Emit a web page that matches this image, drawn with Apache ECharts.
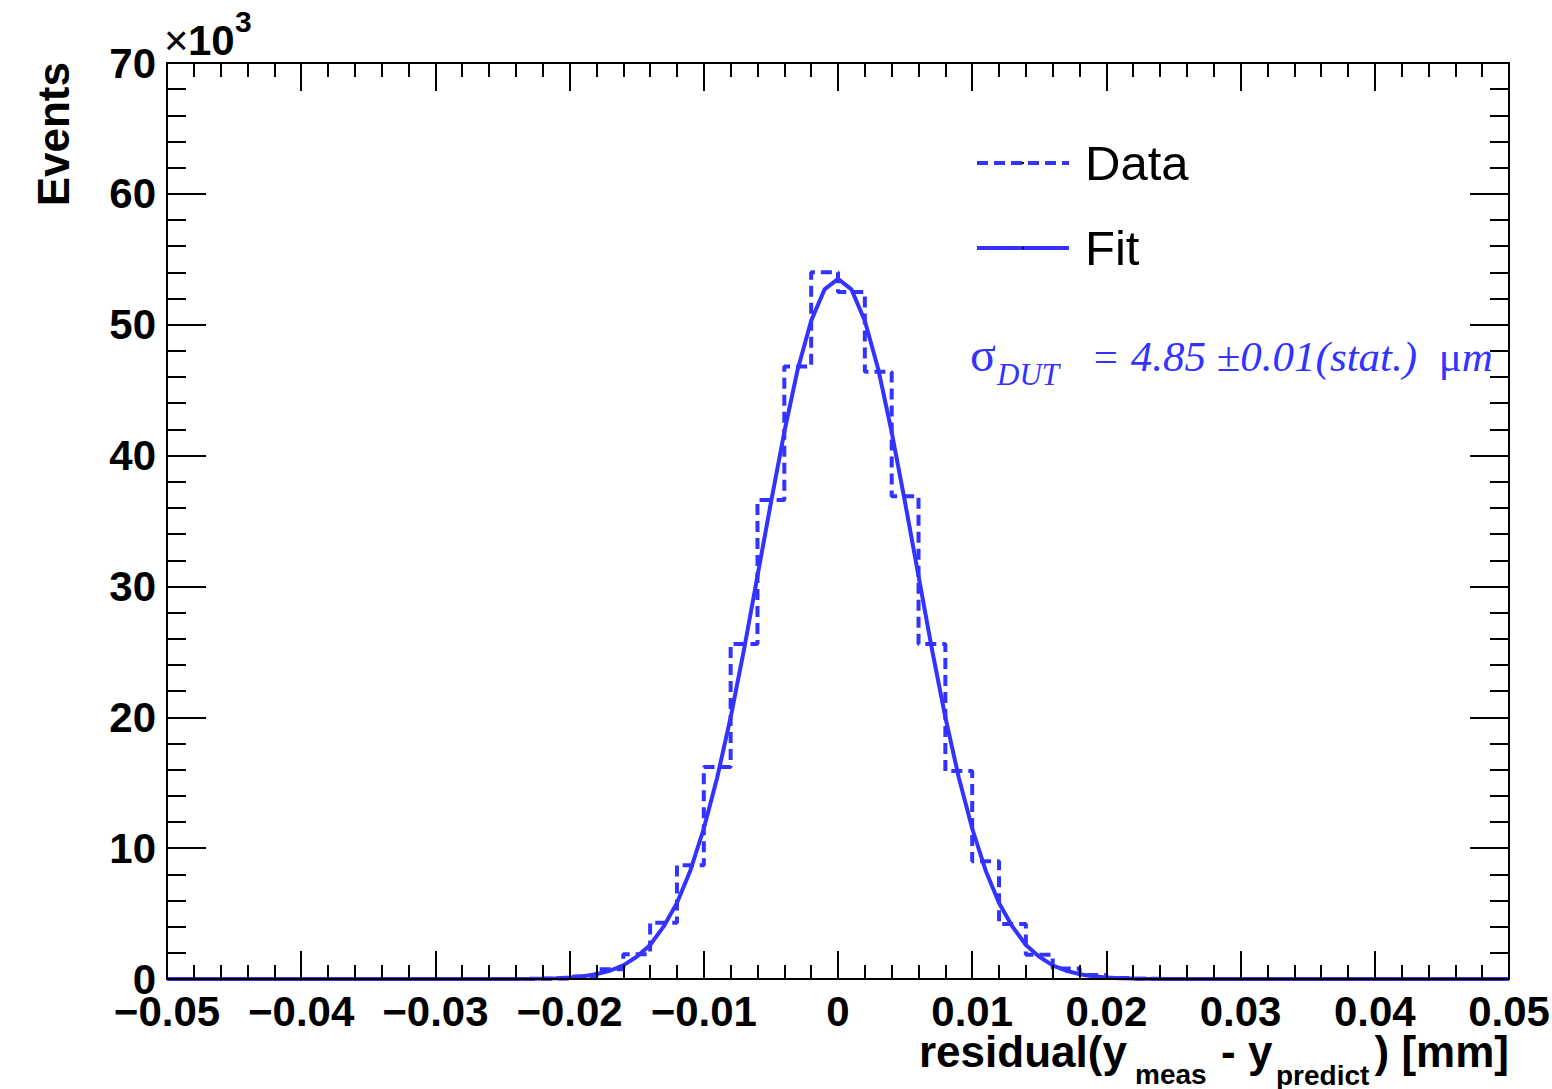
<!DOCTYPE html>
<html>
<head>
<meta charset="utf-8">
<script src="https://cdn.jsdelivr.net/npm/echarts@6/dist/echarts.min.js"></script>
<style>
html,body{margin:0;padding:0;background:#fff;}
#chart{width:1552px;height:1089px;}
</style>
</head>
<body>
<div id="chart"></div>
<script>
// ---- data (values in units of 10^3 events) ----
const binEdges = [-0.050,-0.048,-0.046,-0.044,-0.042,-0.040,-0.038,-0.036,-0.034,-0.032,
  -0.030,-0.028,-0.026,-0.024,-0.022,-0.020,-0.018,-0.016,-0.014,-0.012,
  -0.010,-0.008,-0.006,-0.004,-0.002,0.000,0.002,0.004,0.006,0.008,
  0.010,0.012,0.014,0.016,0.018,0.020,0.022,0.024,0.026,0.028,
  0.030,0.032,0.034,0.036,0.038,0.040,0.042,0.044,0.046,0.048,0.050];
const dataCounts = [0,0,0,0,0,0,0,0,0,0,0,0,0,0.01,
  0.04,0.2,0.75,1.9,4.3,8.7,16.2,25.6,36.6,46.8,54.0,
  52.5,46.4,36.9,25.6,15.9,9.0,4.2,1.85,0.8,0.3,0.07,
  0.01,0,0,0,0,0,0,0,0,0,0,0,0,0];
const fitX = [-0.050,-0.045,-0.040,-0.035,-0.030,-0.025,
  -0.024,-0.023,-0.022,-0.021,-0.020,-0.019,-0.018,-0.017,-0.016,-0.015,
  -0.014,-0.013,-0.012,-0.011,-0.010,-0.009,-0.008,-0.007,-0.006,-0.005,
  -0.004,-0.003,-0.002,-0.001,0.000,0.001,0.002,0.003,0.004,
  0.005,0.006,0.007,0.008,0.009,0.010,0.011,0.012,0.013,0.014,
  0.015,0.016,0.017,0.018,0.019,0.020,0.021,0.022,0.023,0.024,
  0.025,0.030,0.035,0.040,0.045,0.050];
const fitY = [0,0,0,0,0,0,
  0.005,0.01,0.03,0.06,0.11,0.21,0.37,0.63,1.04,1.7,
  2.6,4.0,5.8,8.3,11.5,15.4,20.0,25.2,30.8,36.4,
  41.8,46.6,50.3,52.7,53.5,52.7,50.3,46.6,41.8,
  36.4,30.8,25.2,20.0,15.4,11.5,8.3,5.8,4.0,2.6,
  1.7,1.04,0.63,0.37,0.21,0.11,0.06,0.03,0.01,0.005,
  0,0,0,0,0,0];
const xTickLabels = ['\u22120.05','\u22120.04','\u22120.03','\u22120.02','\u22120.01','0','0.01','0.02','0.03','0.04','0.05'];
const yTickLabels = ['0','10','20','30','40','50','60','70'];
const seriesNames = ['Data','Fit'];

// ---- build ----
const BLUE = '#3333ff';
const SANS = 'Liberation Sans';
const SERIF = 'Liberation Serif';
const histData = dataCounts.map((v, i) => [binEdges[i], v]);
histData.push([binEdges[binEdges.length - 1], dataCounts[dataCounts.length - 1]]);
const fitData = fitX.map((x, i) => [x, fitY[i]]);

const chart = echarts.init(document.getElementById('chart'), null, {renderer: 'svg'});

const xAxisBase = {
  type: 'value', min: -0.05, max: 0.05, interval: 0.01,
  axisLine: {show: true, onZero: false, lineStyle: {color: '#000', width: 2}},
  axisTick: {show: true, inside: true, length: 28, lineStyle: {color: '#000', width: 2}},
  minorTick: {show: true, splitNumber: 5, length: 14, lineStyle: {color: '#000', width: 2}},
  splitLine: {show: false}, minorSplitLine: {show: false},
  z: 5
};
const yAxisBase = {
  type: 'value', min: 0, max: 70, interval: 10,
  axisLine: {show: true, onZero: false, lineStyle: {color: '#000', width: 2}},
  axisTick: {show: true, inside: true, length: 39, lineStyle: {color: '#000', width: 2}},
  minorTick: {show: true, splitNumber: 5, length: 19, lineStyle: {color: '#000', width: 2}},
  splitLine: {show: false}, minorSplitLine: {show: false},
  z: 5
};

const option = {
  animation: false,
  backgroundColor: '#fff',
  grid: {left: 167, top: 63, right: 43, bottom: 110, containLabel: false, outerBoundsMode: 'none'},
  xAxis: [
    Object.assign({}, xAxisBase, {
      position: 'bottom',
      axisLabel: {show: true, margin: 15, fontSize: 42, lineHeight: 34, fontWeight: 'bold', fontFamily: SANS, color: '#000',
        formatter: (v, i) => xTickLabels[i]}
    }),
    Object.assign({}, xAxisBase, {position: 'top', axisLabel: {show: false}})
  ],
  yAxis: [
    Object.assign({}, yAxisBase, {
      position: 'left',
      axisLabel: {show: true, margin: 11, fontSize: 42, lineHeight: 30, fontWeight: 'bold', fontFamily: SANS, color: '#000',
        formatter: (v, i) => yTickLabels[i]}
    }),
    Object.assign({}, yAxisBase, {position: 'right', axisLabel: {show: false}})
  ],
  legend: {
    show: true, data: seriesNames, orient: 'vertical', left: 975, top: 135,
    itemWidth: 92, itemHeight: 3, itemGap: 29, padding: 0,
    selectedMode: false,
    itemStyle: {color: '#000', borderWidth: 0},
    lineStyle: {width: 4},
    textStyle: {fontSize: 49, fontFamily: SANS, color: '#000', lineHeight: 56, padding: [0, 0, 0, 11]}
  },
  series: [
    {
      name: seriesNames[0], type: 'line', step: 'end', data: histData,
      xAxisIndex: 0, yAxisIndex: 0, symbol: 'none', showSymbol: false,
      lineStyle: {color: BLUE, width: 4, type: [11, 6]}, itemStyle: {color: BLUE}, z: 2
    },
    {
      name: seriesNames[1], type: 'line', data: fitData, smooth: false,
      xAxisIndex: 0, yAxisIndex: 0, symbol: 'none', showSymbol: false,
      lineStyle: {color: BLUE, width: 4, type: 'solid'}, itemStyle: {color: BLUE}, z: 3
    }
  ],
  graphic: {elements: [
    // y axis title
    {type: 'text', x: 53, y: 62, rotation: Math.PI / 2,
      style: {text: 'Events', fontSize: 44, fontWeight: 'bold', fontFamily: SANS, fill: '#000', align: 'right', verticalAlign: 'middle'}},
    // x10^3 multiplier
    {type: 'text', x: 164, y: 40,
      style: {text: '\u00d7', fontSize: 42, fontFamily: SANS, fill: '#000', align: 'left', verticalAlign: 'middle'}},
    {type: 'text', x: 188, y: 40,
      style: {text: '10', fontSize: 42, fontWeight: 'bold', fontFamily: SANS, fill: '#000', align: 'left', verticalAlign: 'middle'}},
    {type: 'text', x: 235, y: 21,
      style: {text: '3', fontSize: 30, fontWeight: 'bold', fontFamily: SANS, fill: '#000', align: 'left', verticalAlign: 'middle'}},
    // x axis title
    {type: 'text', x: 919, y: 1051,
      style: {text: 'residual(y', fontSize: 44, lineHeight: 34, fontWeight: 'bold', fontFamily: SANS, fill: '#000', align: 'left', verticalAlign: 'middle'}},
    {type: 'text', x: 1135, y: 1074,
      style: {text: 'meas', fontSize: 28, lineHeight: 24, fontWeight: 'bold', fontFamily: SANS, fill: '#000', align: 'left', verticalAlign: 'middle'}},
    {type: 'text', x: 1221, y: 1051,
      style: {text: '- y', fontSize: 44, lineHeight: 34, fontWeight: 'bold', fontFamily: SANS, fill: '#000', align: 'left', verticalAlign: 'middle'}},
    {type: 'text', x: 1276, y: 1075,
      style: {text: 'predict', fontSize: 28, lineHeight: 24, fontWeight: 'bold', fontFamily: SANS, fill: '#000', align: 'left', verticalAlign: 'middle'}},
    {type: 'text', x: 1509, y: 1051,
      style: {text: ') [mm]', fontSize: 44, lineHeight: 34, fontWeight: 'bold', fontFamily: SANS, fill: '#000', align: 'right', verticalAlign: 'middle'}},
    // sigma annotation
    {type: 'text', x: 970, y: 354,
      style: {text: '\u03c3', fontSize: 48, fontFamily: SERIF, fill: BLUE, align: 'left', verticalAlign: 'middle'}},
    {type: 'text', x: 997, y: 374,
      style: {text: 'DUT', fontSize: 31, fontStyle: 'italic', fontFamily: SERIF, fill: BLUE, align: 'left', verticalAlign: 'middle'}},
    {type: 'text', x: 1091, y: 356,
      style: {
        text: '{i|= 4.85 }{n|\u00b1}{i|0.01(stat.)}{n|  \u03bc}{i|m}',
        fontSize: 43, fontFamily: SERIF, fill: BLUE, align: 'left', verticalAlign: 'middle',
        rich: {
          i: {fontSize: 43, fontStyle: 'italic', fontFamily: SERIF, fill: BLUE},
          n: {fontSize: 43, fontStyle: 'normal', fontFamily: SERIF, fill: BLUE}
        }
      }}
  ]}
};
chart.setOption(option);
</script>
</body>
</html>
